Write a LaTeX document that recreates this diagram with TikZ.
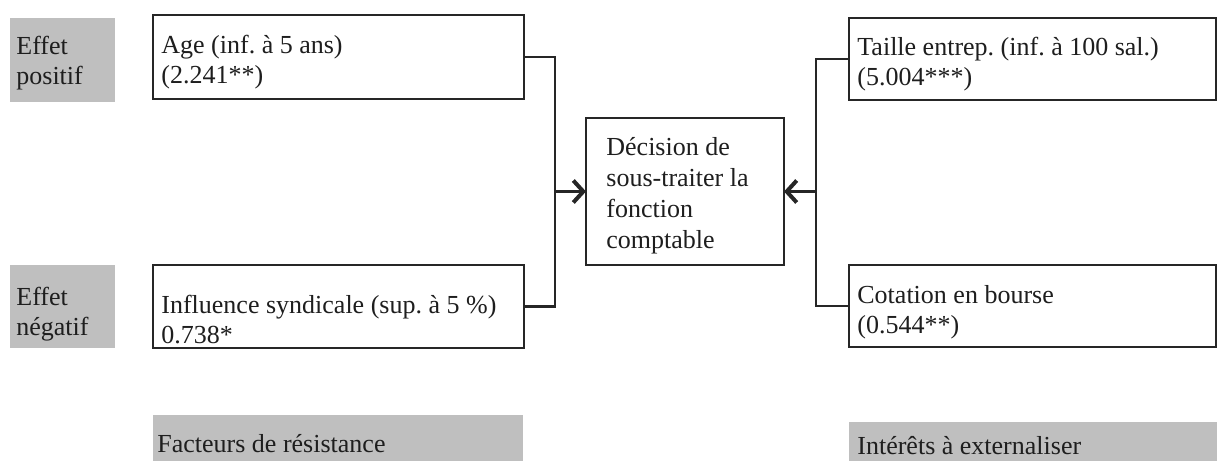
\documentclass[tikz,border=0pt]{standalone}
\usepackage{fontspec}
\setmainfont{Liberation Serif}
\usetikzlibrary{arrows.meta}
\definecolor{greyfill}{RGB}{191,191,191}
\definecolor{inktext}{RGB}{30,30,30}
\tikzset{
  box/.style={draw=black!85, line width=1.1pt, fill=white, anchor=north west, inner sep=0pt, outer sep=0pt},
  greybox/.style={fill=greyfill, draw=none, anchor=north west, inner sep=0pt, outer sep=0pt},
  label/.style={anchor=base west, inner sep=0pt, text=inktext, font=\fontsize{13}{15}\selectfont},
  declabel/.style={anchor=base west, inner sep=0pt, text=inktext, font=\fontsize{13}{15.5}\selectfont},
  conn/.style={draw=black!85, line width=1.1pt},
  arr/.style={conn, -{Straight Barb[length=5pt,width=11pt,line width=2pt]}}
}
\newcommand{\twolines}[2]{\begin{tabular}[t]{@{}l@{}}#1\\#2\end{tabular}}
\frenchspacing
\begin{document}
\begin{tikzpicture}[x=0.5pt,y=-0.5pt]
\useasboundingbox (0,0) rectangle (1217,461);
% grey labels
\node[greybox, minimum width=52.5pt, minimum height=42pt] (gpos) at (10,18) {};
\node[greybox, minimum width=52.5pt, minimum height=41.5pt] (gneg) at (10,265) {};
\node[greybox, minimum width=185pt, minimum height=25pt] (gfac) at (153,415) {};
\node[greybox, minimum width=186pt, minimum height=22pt] (gint) at (849,422) {};
\node[label] (tpos) at (16,54) {\twolines{Effet}{positif}};
\node[label] (tneg) at (16,305) {\twolines{Effet}{négatif}};
\node[label] (tfac) at (157,452) {Facteurs de résistance};
\node[label] (tint) at (857,454) {Intérêts à externaliser};
% boxes
\node[box, minimum width=185.5pt, minimum height=42pt] (age) at (153,15) {};
\node[box, minimum width=185.5pt, minimum height=41.5pt] (infl) at (153,265) {};
\node[box, minimum width=99pt, minimum height=73.5pt] (dec) at (586,118) {};
\node[box, minimum width=183.5pt, minimum height=41pt] (taille) at (849,18) {};
\node[box, minimum width=183.5pt, minimum height=41pt] (cot) at (849,265) {};
% texts
\node[label] (tage) at (161,53) {\twolines{Age (inf. à 5 ans)}{(2.241**)}};
\node[label] (tinfl) at (161,313) {\twolines{Influence syndicale (sup. à 5 \%)}{0.738*}};
\node[declabel] (tdec) at (606,155) {\begin{tabular}[t]{@{}l@{}}Décision de\\sous-traiter la\\fonction\\comptable\end{tabular}};
\node[label] (ttaille) at (857,55) {\twolines{Taille entrep. (inf. à 100 sal.)}{(5.004***)}};
\node[label] (tcot) at (857,303) {\twolines{Cotation en bourse}{(0.544**)}};
% connectors
\coordinate (jl) at (555,191.5);
\coordinate (jr) at (816,191.5);
\draw[conn] (age.east) -| (jl) |- (infl.east);
\draw[arr] (jl) -- (dec.west);
\draw[conn] (taille.west) -| (jr) |- (cot.west);
\draw[arr] (jr) -- (dec.east);
\end{tikzpicture}
\end{document}
